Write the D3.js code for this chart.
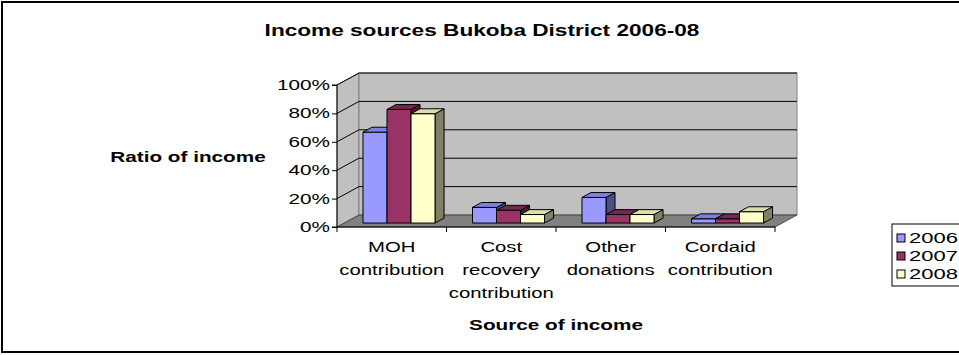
<!DOCTYPE html>
<html>
<head>
<meta charset="utf-8">
<script src="https://cdn.jsdelivr.net/npm/d3@7"></script>
<style>
  body { margin: 0; background: #fff; }
  svg { display: block; }
  text { font-family: Arial, "Liberation Sans", sans-serif; fill: #000; }
</style>
</head>
<body>
<div id="chart"></div>
<script>
// chart data
var categories = [["MOH", "contribution"], ["Cost", "recovery", "contribution"], ["Other", "donations"], ["Cordaid", "contribution"]];
var years = ["2006", "2007", "2008"];
var values2006 = [64, 11, 18, 3];
var values2007 = [80, 9, 6, 3];
var values2008 = [77, 6, 6, 8];
var yTicks = [0, 20, 40, 60, 80, 100];

var series = [values2006, values2007, values2008];
var fronts = ["#9999FF", "#993366", "#FFFFCC"];
var tops = ["#7f7fdc", "#742750", "#dcdcae"];
var sides = ["#4d4d80", "#4d1a33", "#808066"];

var svgWidth = 959, svgHeight = 355;

var svg = d3.select("#chart").append("svg")
  .attr("width", svgWidth)
  .attr("height", svgHeight);

// the original picture is stretched sideways, so every text style gets
// its own horizontal factor, measured from one sample string
function stretchFor(sample, size, weight, width) {
  var t = svg.append("text").attr("font-size", size).attr("font-weight", weight).text(sample);
  var w = t.node().getComputedTextLength();
  t.remove();
  return width / w;
}
var sxTitle = stretchFor("Income sources Bukoba District 2006-08", 17, "bold", 435);
var sxAxisTitle = stretchFor("Source of income", 15, "bold", 174);
var sxTick = stretchFor("100%", 15, "normal", 53);
var sxCat = stretchFor("contribution", 15, "normal", 105);
var sxLegend = stretchFor("2007", 15, "normal", 49);

function stretchedText(g, x, y, txt, anchor, size, weight, sx) {
  return g.append("text")
    .attr("transform", "translate(" + x + "," + y + ") scale(" + sx + ",1)")
    .attr("text-anchor", anchor)
    .attr("font-size", size)
    .attr("font-weight", weight)
    .text(txt);
}

// outer frame (right edge runs off the picture)
svg.append("rect")
  .attr("x", 2).attr("y", 2)
  .attr("width", 1000).attr("height", 350)
  .attr("fill", "#fff").attr("stroke", "#000").attr("stroke-width", 2);

// 3d geometry
var front = { left: 337, right: 775 };
var depthX = 22, depthY = -12;
var yScale = d3.scaleLinear().domain([0, 100]).range([227, 85]);
var xScale = d3.scaleBand().domain(d3.range(categories.length)).range([front.left, front.right]);
var inner = d3.scaleBand().domain(d3.range(years.length)).range([0, xScale.bandwidth()]).paddingOuter(0.78);

function p(x, v, z) {
  return [x + depthX * z, yScale(v) + depthY * z];
}
function poly(pts) {
  return "M" + pts.map(function(d) { return d[0] + "," + d[1]; }).join("L") + "Z";
}

// side wall
svg.append("path")
  .attr("d", poly([p(front.left, 0, 0), p(front.left, 100, 0), p(front.left, 100, 1), p(front.left, 0, 1)]))
  .attr("fill", "#C0C0C0").attr("stroke", "#808080");

// back wall
svg.append("path")
  .attr("d", poly([p(front.left, 0, 1), p(front.left, 100, 1), p(front.right, 100, 1), p(front.right, 0, 1)]))
  .attr("fill", "#C0C0C0").attr("stroke", "#808080");

// floor
svg.append("path")
  .attr("d", poly([p(front.left, 0, 0), p(front.right, 0, 0), p(front.right, 0, 1), p(front.left, 0, 1)]))
  .attr("fill", "#808080").attr("stroke", "#333").attr("stroke-width", 0.8);

// gridlines on the back wall and on the side wall
yTicks.slice(1).forEach(function(t) {
  var a = p(front.left, t, 0), b = p(front.left, t, 1), c = p(front.right, t, 1);
  svg.append("path")
    .attr("d", "M" + a + "L" + b + "L" + c)
    .attr("fill", "none").attr("stroke", "#000").attr("stroke-width", 1);
});

// bars
categories.forEach(function(cat, ci) {
  series.forEach(function(vals, si) {
    var x0 = xScale(ci) + inner(si), x1 = x0 + inner.bandwidth();
    var v = vals[ci], z0 = 0.33, z1 = 0.74;
    var g = svg.append("g").attr("stroke", "#000").attr("stroke-width", 1).attr("stroke-linejoin", "round");
    g.append("path").attr("fill", sides[si])
      .attr("d", poly([p(x1, 0, z0), p(x1, v, z0), p(x1, v, z1), p(x1, 0, z1)]));
    g.append("path").attr("fill", fronts[si])
      .attr("d", poly([p(x0, 0, z0), p(x0, v, z0), p(x1, v, z0), p(x1, 0, z0)]));
    g.append("path").attr("fill", tops[si])
      .attr("d", poly([p(x0, v, z0), p(x0, v, z1), p(x1, v, z1), p(x1, v, z0)]));
  });
});

// y axis
var yAxis = d3.axisLeft(yScale).tickValues(yTicks).tickSize(5).tickFormat(function() { return ""; });
svg.append("g")
  .attr("transform", "translate(" + front.left + ",0)")
  .call(yAxis)
  .call(function(g) { g.selectAll("path,line").attr("stroke", "#000"); g.select(".domain").attr("d", "M-5," + yScale(100) + "H0V" + yScale(0) + "H-5"); });
yTicks.forEach(function(t) {
  stretchedText(svg, 330, yScale(t) + 5, t + "%", "end", 15, "normal", sxTick);
});

// x axis
var xAxis = d3.axisBottom(xScale).tickSize(0).tickFormat(function() { return ""; });
svg.append("g")
  .attr("transform", "translate(0," + yScale(0) + ")")
  .call(xAxis)
  .call(function(g) { g.select(".domain").attr("stroke", "#000").attr("d", "M" + front.left + ",0H" + front.right); });
d3.range(categories.length + 1).forEach(function(i) {
  var x = front.left + i * xScale.step();
  svg.append("line").attr("x1", x).attr("x2", x).attr("y1", yScale(0)).attr("y2", yScale(0) + 5).attr("stroke", "#000");
});
categories.forEach(function(lines, ci) {
  var cx = xScale(ci) + xScale.bandwidth() / 2;
  lines.forEach(function(line, li) {
    stretchedText(svg, cx, 252 + li * 23, line, "middle", 15, "normal", sxCat);
  });
});

// titles
stretchedText(svg, 482, 36, "Income sources Bukoba District 2006-08", "middle", 17, "bold", sxTitle);
stretchedText(svg, 188, 162, "Ratio of income", "middle", 15, "bold", sxAxisTitle);
stretchedText(svg, 556, 330, "Source of income", "middle", 15, "bold", sxAxisTitle);

// legend
var legend = svg.append("g").attr("transform", "translate(892,224)");
legend.append("rect").attr("x", 0).attr("y", 0).attr("width", 100).attr("height", 62)
  .attr("fill", "#fff").attr("stroke", "#000");
years.forEach(function(yr, i) {
  legend.append("rect").attr("x", 5).attr("y", 10 + i * 18).attr("width", 8).attr("height", 8)
    .attr("fill", fronts[i]).attr("stroke", "#000");
  stretchedText(legend, 17, 19 + i * 18, yr, "start", 15, "normal", sxLegend);
});
</script>
</body>
</html>
